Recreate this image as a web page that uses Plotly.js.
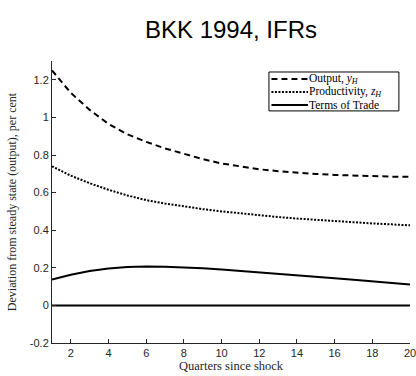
<!DOCTYPE html>
<html>
<head>
<meta charset="utf-8">
<script src="https://cdn.plot.ly/plotly-3.0.1.min.js"></script>
<style>html,body{margin:0;padding:0;background:#fff;}#chart{width:416px;height:376px;}</style>
</head>
<body>
<div id="chart"></div>
<script>
var quarters = [1,2,3,4,5,6,7,8,9,10,11,12,13,14,15,16,17,18,19,20];
var outputYH = [1.25,1.13,1.04,0.965,0.91,0.87,0.835,0.805,0.778,0.755,0.738,0.724,0.714,0.705,0.699,0.694,0.690,0.687,0.685,0.684];
var productivityZH = [0.74,0.69,0.65,0.615,0.585,0.56,0.542,0.526,0.512,0.50,0.489,0.479,0.470,0.462,0.455,0.448,0.442,0.436,0.431,0.426];
var termsOfTrade = [0.138,0.163,0.183,0.196,0.204,0.207,0.206,0.203,0.198,0.191,0.184,0.177,0.169,0.162,0.154,0.145,0.137,0.128,0.120,0.111];
var zeroLine = [0,0,0,0,0,0,0,0,0,0,0,0,0,0,0,0,0,0,0,0];
var seriesNames = ['Output, <i>y<sub>H</sub></i>', 'Productivity, <i>z<sub>H</sub></i>', 'Terms of Trade'];
var xTickVals = [2,4,6,8,10,12,14,16,18,20];
var yTickVals = [-0.2,0,0.2,0.4,0.6,0.8,1,1.2];
var yTickText = ['-0.2','0','0.2','0.4','0.6','0.8','1','1.2'];

var serif = 'Liberation Serif, Times New Roman, serif';
var sans = 'Liberation Sans, Arial, sans-serif';
var dashes = ['6px,4px', '2px,1.5px', 'solid'];
var seriesY = [outputYH, productivityZH, termsOfTrade];

var traces = [];
for (var i = 0; i < 3; i++) {
  traces.push({x: quarters, y: seriesY[i], type: 'scatter', mode: 'lines', name: seriesNames[i],
    showlegend: false, line: {color: '#000', width: 2, dash: dashes[i]}});
}
traces.push({x: quarters, y: zeroLine, type: 'scatter', mode: 'lines', showlegend: false,
  line: {color: '#000', width: 2}});

// compact legend box (legend decoration, paper coordinates)
var legX0 = 0.606, legX1 = 0.969, legYTop = 0.961, legYBot = 0.823;
var rowY = [0.936, 0.890, 0.844];
var sampleX0 = 0.613, sampleX1 = 0.715, textX = 0.716;
var shapes = [{type: 'rect', xref: 'paper', yref: 'paper', x0: legX0, x1: legX1, y0: legYBot, y1: legYTop,
  line: {color: '#000', width: 1}, fillcolor: '#fff', layer: 'above'}];
var annotations = [];
for (var j = 0; j < 3; j++) {
  shapes.push({type: 'line', xref: 'paper', yref: 'paper', x0: sampleX0, x1: sampleX1, y0: rowY[j], y1: rowY[j],
    line: {color: '#000', width: 2, dash: dashes[j]}, layer: 'above'});
  annotations.push({xref: 'paper', yref: 'paper', x: textX, y: rowY[j], xanchor: 'left', yanchor: 'middle',
    text: seriesNames[j], showarrow: false, borderpad: 0,
    font: {family: serif, size: 11.5, color: '#000'}});
}

var layout = {
  width: 416, height: 376,
  margin: {l: 52, r: 6, t: 61, b: 33},
  paper_bgcolor: '#fff', plot_bgcolor: '#fff',
  showlegend: false,
  shapes: shapes,
  annotations: annotations,
  title: {text: 'BKK 1994, IFRs', font: {family: sans, size: 24, color: '#000'}, x: 0.5, xanchor: 'center', y: 0.92, yanchor: 'middle', xref: 'paper'},
  xaxis: {range: [1, 20], tickvals: xTickVals, ticks: 'inside', ticklen: 4, tickcolor: '#262626',
          ticklabeloverflow: 'allow',
          showline: true, linecolor: '#262626', linewidth: 1, showgrid: false, zeroline: false,
          tickfont: {family: sans, size: 11, color: '#262626'},
          title: {text: 'Quarters since shock', font: {family: serif, size: 12.5, color: '#262626'}, standoff: 2}},
  yaxis: {range: [-0.2, 1.3], tickvals: yTickVals, ticktext: yTickText, ticks: 'inside', ticklen: 4, tickcolor: '#262626',
          showline: true, linecolor: '#262626', linewidth: 1, showgrid: false, zeroline: false,
          tickfont: {family: sans, size: 11, color: '#262626'},
          title: {text: 'Deviation from steady state (output), per cent', font: {family: serif, size: 12, color: '#262626'}, standoff: 10}}
};

Plotly.newPlot('chart', traces, layout, {staticPlot: true, displayModeBar: false});
</script>
</body>
</html>
